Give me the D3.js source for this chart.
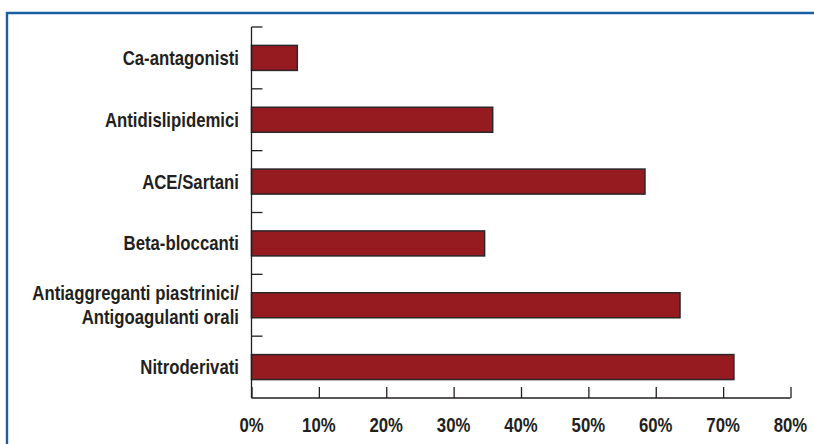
<!DOCTYPE html>
<html>
<head>
<meta charset="utf-8">
<script src="https://cdn.jsdelivr.net/npm/d3@7"></script>
<style>
  html, body { margin: 0; padding: 0; background: #fff; }
  svg { display: block; }
  .lbl { font-family: "Liberation Sans", Arial, sans-serif; font-weight: bold; fill: #231f20; }
</style>
</head>
<body>
<svg id="chart" width="814" height="444"></svg>
<script>
// Drug classes (top to bottom) and share of patients treated, in percent
const categories = [
  ["Ca-antagonisti"],
  ["Antidislipidemici"],
  ["ACE/Sartani"],
  ["Beta-bloccanti"],
  ["Antiaggreganti piastrinici/", "Antigoagulanti orali"],
  ["Nitroderivati"]
];
const values = [6.8, 35.8, 58.4, 34.6, 63.6, 71.6];
const tickValues = [0, 10, 20, 30, 40, 50, 60, 70, 80];

const svg = d3.select("#chart");
const narrow = 0.86; // horizontal squeeze giving a condensed bold face

// Blue frame (top and left edges)
svg.append("path")
  .attr("d", "M7,444 V13 H814")
  .attr("fill", "none")
  .attr("stroke", "#1b5fa3")
  .attr("stroke-width", 2.4);

const x = d3.scaleLinear().domain([0, 80]).range([251.5, 790.5]);
const y = d3.scaleBand().domain(d3.range(categories.length)).range([27, 398]).paddingInner(0).paddingOuter(0);
const barH = 25;

// Bars
svg.append("g").selectAll("rect")
  .data(values)
  .join("rect")
  .attr("x", x(0))
  .attr("y", (d, i) => y(i) + y.bandwidth() / 2 - barH / 2)
  .attr("width", d => x(d) - x(0))
  .attr("height", barH)
  .attr("fill", "#951b20")
  .attr("stroke", "#2b2628")
  .attr("stroke-width", 1.5);

// X axis with ticks pointing up into the plot
const xAxis = svg.append("g")
  .attr("transform", "translate(0,398)")
  .call(d3.axisTop(x).tickValues(tickValues).tickSize(11).tickFormat(""));
xAxis.select(".domain").attr("d", `M${x(0)},0H${x(80)}`).attr("stroke", "#231f20").attr("stroke-width", 1.3);
xAxis.selectAll(".tick line").attr("stroke", "#231f20").attr("stroke-width", 1.3);

svg.append("g").selectAll("g")
  .data(tickValues)
  .join("g")
  .attr("transform", d => `translate(${x(d)},432) scale(${narrow},1)`)
  .append("text")
  .attr("class", "lbl")
  .attr("text-anchor", "middle")
  .style("font-size", "19.5px")
  .text(d => d + "%");

// Y axis: ticks at category boundaries pointing right
const boundaries = d3.range(categories.length).map(i => y(i));
const yAxis = svg.append("g");
yAxis.append("line")
  .attr("x1", x(0)).attr("x2", x(0))
  .attr("y1", y(0)).attr("y2", 398)
  .attr("stroke", "#231f20").attr("stroke-width", 1.3);
yAxis.selectAll("line.tk")
  .data(boundaries)
  .join("line")
  .attr("class", "tk")
  .attr("x1", x(0)).attr("x2", x(0) + 11)
  .attr("y1", d => d).attr("y2", d => d)
  .attr("stroke", "#231f20").attr("stroke-width", 1.3);

// Category labels, right-aligned against the axis
const lineH = 24;
svg.append("g").selectAll("g")
  .data(categories)
  .join("g")
  .attr("transform", (d, i) => `translate(239,${y(i) + y.bandwidth() / 2 + 7}) scale(${narrow},1)`)
  .append("text")
  .attr("class", "lbl")
  .attr("text-anchor", "end")
  .style("font-size", "19.5px")
  .each(function (lines) {
    const t = d3.select(this);
    lines.forEach((ln, k) => {
      t.append("tspan")
        .attr("x", 0)
        .attr("y", (k - (lines.length - 1) / 2) * lineH)
        .text(ln);
    });
  });
</script>
</body>
</html>
